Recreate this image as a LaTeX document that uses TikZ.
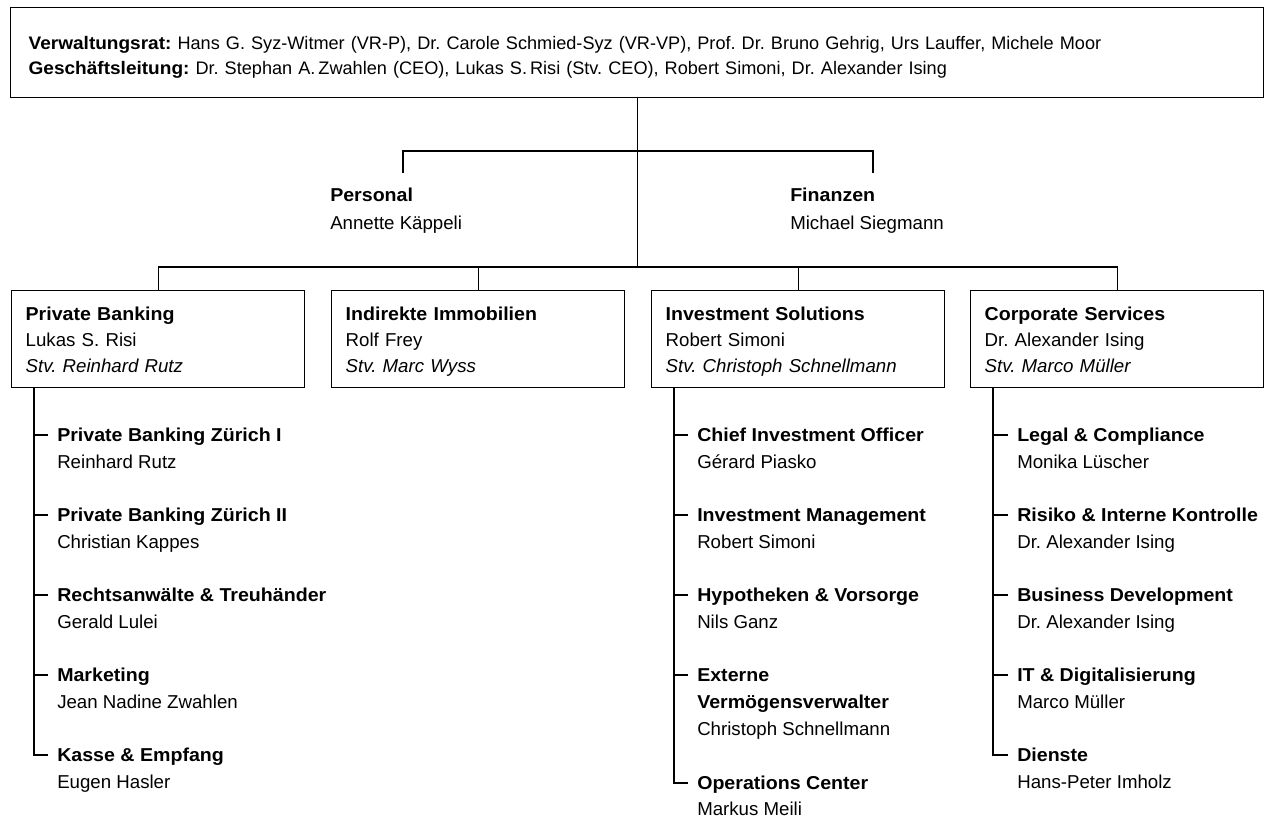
\documentclass[tikz,border=0pt]{standalone}
\usepackage{fontspec}
\setmainfont{Liberation Sans}[BoldFeatures={FakeStretch=1.05}]
\usepackage{tikz}
\usetikzlibrary{positioning}
\frenchspacing
\tikzset{
    org-line/.style = {draw=black, line width=1pt},
    board-box/.style = {draw=black, line width=1pt, rectangle, anchor=north west, align=left, inner xsep=13.5pt, inner ysep=0pt, minimum width=939.75pt, text width=912.75pt, text height=31.5pt, text depth=36pt, font=\fontsize{13.6}{18.5}\selectfont},
    unit-box/.style = {draw=black, line width=1pt, rectangle, anchor=north west, align=left, inner xsep=10.5pt, inner ysep=0pt, minimum width=219.75pt, text width=198.75pt, text height=22.5pt, text depth=50.25pt, font=\fontsize{14}{19.5}\selectfont},
    staff/.style = {anchor=west, align=left, inner sep=0pt, font=\fontsize{14}{21}\selectfont},
    sub-head/.style = {anchor=west, inner xsep=6.75pt, inner ysep=0pt, text height=10pt, text depth=0pt, font=\fontsize{14}{20}\selectfont\bfseries},
    sub-name/.style = {sub-head, font=\fontsize{14}{20}\selectfont},
}

\begin{document}
\begin{tikzpicture}[x=0.75pt, y=-0.75pt]
\useasboundingbox (0,0) rectangle (1265,819);

% board and management
\node [board-box] (board) at (10,7) {\textbf{Verwaltungsrat:} Hans G. Syz-Witmer (VR-P), Dr. Carole Schmied-Syz (VR-VP), Prof. Dr. Bruno Gehrig, Urs Lauffer, Michele Moor\\
\textbf{Geschäftsleitung:} Dr. Stephan A.\,Zwahlen (CEO), Lukas S.\,Risi (Stv. CEO), Robert Simoni, Dr. Alexander Ising};

% staff functions
\node [staff] (hr) at (330,211) {\textbf{Personal}\\Annette Käppeli};
\node [staff] (fin) at (790,211) {\textbf{Finanzen}\\Michael Siegmann};
\coordinate (hr-stub) at (403,173);
\coordinate (fin-stub) at (873,173);

% divisions
\node [unit-box] (pb) at (11,290) {\textbf{Private Banking}\\Lukas S. Risi\\\textit{Stv. Reinhard Rutz}};
\node [unit-box] (ii) at (331,290) {\textbf{Indirekte Immobilien}\\Rolf Frey\\\textit{Stv. Marc Wyss}};
\node [unit-box] (is) at (651,290) {\textbf{Investment Solutions}\\Robert Simoni\\\textit{Stv. Christoph Schnellmann}};
\node [unit-box] (cs) at (970,290) {\textbf{Corporate Services}\\Dr. Alexander Ising\\\textit{Stv. Marco Müller}};

\draw [org-line] (board.south) -- ++(0,170);
\draw [org-line] (hr-stub) -- ++(0,-22) -| (fin-stub);
\draw [org-line] (pb.north) -- ++(0,-23) -| (cs.north);
\draw [org-line] (ii.north) -- ++(0,-23);
\draw [org-line] (is.north) -- ++(0,-23);

% Private Banking
\coordinate (pb-spine) at ([xshift=17.25pt]pb.south west);
\node [sub-head] (pb1) at (48,435) {Private Banking Zürich I};
\node [sub-name] (pb1n) at (48,462) {Reinhard Rutz};
\node [sub-head] (pb2) at (48,515) {Private Banking Zürich II};
\node [sub-name] (pb2n) at (48,542) {Christian Kappes};
\node [sub-head] (pb3) at (48,595) {Rechtsanwälte \& Treuhänder};
\node [sub-name] (pb3n) at (48,622) {Gerald Lulei};
\node [sub-head] (pb4) at (48,675) {Marketing};
\node [sub-name] (pb4n) at (48,702) {Jean Nadine Zwahlen};
\node [sub-head] (pb5) at (48,755) {Kasse \& Empfang};
\node [sub-name] (pb5n) at (48,782) {Eugen Hasler};
\draw [org-line] (pb-spine) |- (pb5.west);
\draw [org-line] (pb1.west -| pb-spine) -- (pb1.west);
\draw [org-line] (pb2.west -| pb-spine) -- (pb2.west);
\draw [org-line] (pb3.west -| pb-spine) -- (pb3.west);
\draw [org-line] (pb4.west -| pb-spine) -- (pb4.west);

% Investment Solutions
\coordinate (is-spine) at ([xshift=17.25pt]is.south west);
\node [sub-head] (is1) at (688,435) {Chief Investment Officer};
\node [sub-name] (is1n) at (688,462) {Gérard Piasko};
\node [sub-head] (is2) at (688,515) {Investment Management};
\node [sub-name] (is2n) at (688,542) {Robert Simoni};
\node [sub-head] (is3) at (688,595) {Hypotheken \& Vorsorge};
\node [sub-name] (is3n) at (688,622) {Nils Ganz};
\node [sub-head] (is4) at (688,675) {Externe};
\node [sub-head] (is4b) at (688,702) {Vermögensverwalter};
\node [sub-name] (is4n) at (688,729) {Christoph Schnellmann};
\node [sub-head] (is5) at (688,783) {Operations Center};
\node [sub-name] (is5n) at (688,809) {Markus Meili};
\draw [org-line] (is-spine) |- (is5.west);
\draw [org-line] (is1.west -| is-spine) -- (is1.west);
\draw [org-line] (is2.west -| is-spine) -- (is2.west);
\draw [org-line] (is3.west -| is-spine) -- (is3.west);
\draw [org-line] (is4.west -| is-spine) -- (is4.west);

% Corporate Services
\coordinate (cs-spine) at ([xshift=17.25pt]cs.south west);
\node [sub-head] (cs1) at (1008,435) {Legal \& Compliance};
\node [sub-name] (cs1n) at (1008,462) {Monika Lüscher};
\node [sub-head] (cs2) at (1008,515) {Risiko \& Interne Kontrolle};
\node [sub-name] (cs2n) at (1008,542) {Dr. Alexander Ising};
\node [sub-head] (cs3) at (1008,595) {Business Development};
\node [sub-name] (cs3n) at (1008,622) {Dr. Alexander Ising};
\node [sub-head] (cs4) at (1008,675) {IT \& Digitalisierung};
\node [sub-name] (cs4n) at (1008,702) {Marco Müller};
\node [sub-head] (cs5) at (1008,755) {Dienste};
\node [sub-name] (cs5n) at (1008,782) {Hans-Peter Imholz};
\draw [org-line] (cs-spine) |- (cs5.west);
\draw [org-line] (cs1.west -| cs-spine) -- (cs1.west);
\draw [org-line] (cs2.west -| cs-spine) -- (cs2.west);
\draw [org-line] (cs3.west -| cs-spine) -- (cs3.west);
\draw [org-line] (cs4.west -| cs-spine) -- (cs4.west);
\end{tikzpicture}
\end{document}
